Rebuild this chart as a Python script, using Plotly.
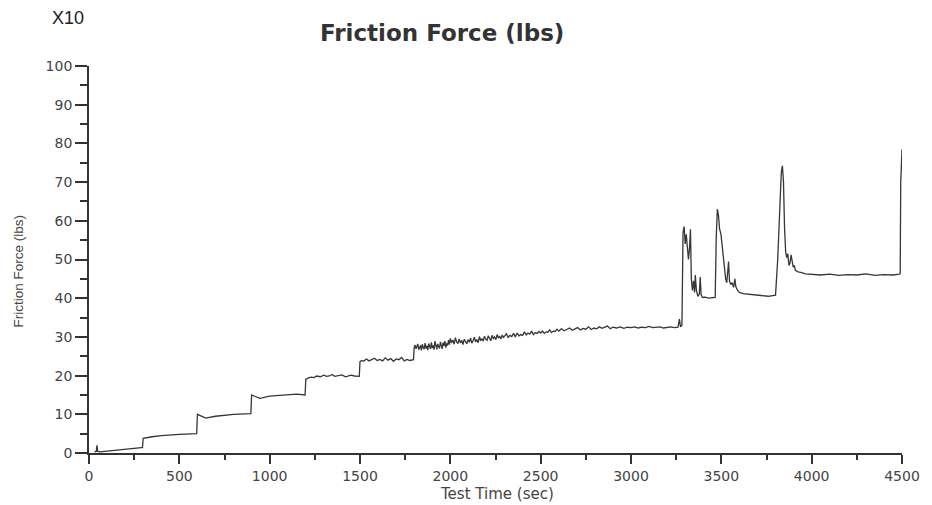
import plotly.graph_objects as go

# ---- data ----
time_sec = [
    30, 40, 44, 48, 60, 150, 290, 296,
    300, 350, 400, 500, 596,
    600, 620, 646, 700, 800, 896,
    900, 920, 946, 1000, 1100, 1150, 1196,
    1200, 1215, 1230, 1245, 1260, 1280, 1300, 1315, 1330, 1345, 1360, 1380, 1400, 1420, 1450, 1470, 1496,
    1500, 1510, 1520, 1535, 1550, 1565, 1580, 1595, 1610, 1625, 1640, 1655, 1670, 1685,
    1700, 1715, 1730, 1745, 1760, 1775, 1796,
    1800, 1805, 1810, 1815, 1820, 1825, 1830, 1835, 1840, 1845, 1850, 1855, 1860, 1865, 1870, 1875,
    1880, 1885, 1890, 1895, 1900, 1905, 1910, 1915, 1920, 1925, 1930, 1935, 1940, 1945, 1950, 1955,
    1960, 1965, 1970, 1975, 1980, 1985, 1990, 1995,
    2000, 2007, 2014, 2021, 2028, 2035, 2042, 2049, 2056, 2063, 2070, 2077, 2084, 2091, 2098,
    2105, 2112, 2119, 2126, 2133, 2140, 2147, 2154, 2161, 2168, 2175, 2182, 2189, 2196,
    2203, 2210, 2217, 2224, 2231, 2238, 2245, 2252, 2259, 2266, 2273, 2280, 2287, 2294,
    2300, 2310, 2320, 2330, 2340, 2350, 2360, 2370, 2380, 2390,
    2400, 2410, 2420, 2430, 2440, 2450, 2460, 2470, 2480, 2490,
    2500, 2510, 2520, 2530, 2540, 2550, 2560, 2570, 2580, 2590,
    2600, 2615, 2630, 2645, 2660, 2675, 2690, 2705, 2720, 2735, 2750, 2765, 2780, 2795,
    2810, 2825, 2840, 2855, 2870, 2885, 2900, 2920, 2940, 2960, 2980,
    3000, 3020, 3040, 3060, 3080, 3100, 3120, 3140, 3160, 3180,
    3200, 3220, 3240, 3260, 3268, 3274, 3282,
    3288, 3294, 3300, 3306, 3312, 3318, 3324, 3329, 3334, 3340,
    3346, 3352, 3356, 3362, 3370, 3378, 3383, 3388, 3395, 3410,
    3430, 3450, 3466,
    3472, 3478, 3484, 3490, 3498, 3506, 3512, 3518, 3524, 3530,
    3536, 3540, 3545, 3552, 3560, 3568, 3575, 3580, 3590, 3600,
    3620, 3650, 3680, 3720, 3760, 3790, 3800,
    3812, 3822, 3832, 3838, 3844, 3850, 3856, 3862, 3868, 3874,
    3880, 3886, 3892, 3898, 3904, 3910, 3925, 3940, 3965, 4000,
    4050, 4100, 4150, 4200, 4250, 4300, 4350, 4400, 4450, 4485,
    4490, 4493, 4496, 4500,
]

friction_force = [
    0.3, 0.4, 2.0, 0.4, 0.3, 0.8, 1.4, 1.4,
    3.8, 4.2, 4.5, 4.8, 5.0,
    10.0, 9.6, 9.0, 9.5, 10.0, 10.2,
    15.0, 14.6, 14.1, 14.7, 15.0, 15.2, 15.0,
    19.0, 19.4, 19.6, 19.5, 19.9, 19.7, 20.1, 19.8, 19.9, 20.3, 19.8, 20.0, 20.2, 19.7, 20.1, 19.9, 19.8,
    23.6, 23.9, 23.7, 24.3, 23.8, 24.1, 24.5, 23.9, 24.2, 23.8, 24.6, 24.0, 24.4, 23.7,
    24.3, 24.1, 24.7, 23.8, 24.2, 23.9, 24.1,
    27.2, 27.9, 26.9, 27.5, 28.2, 26.7, 27.4, 27.8, 26.5, 28.1, 27.3, 26.8, 28.4, 27.0, 27.7, 26.6,
    28.3, 27.5, 26.9, 28.6, 27.1, 27.8, 26.7, 28.9, 27.4, 26.8, 28.2, 27.6, 27.0, 28.7, 27.3, 26.9,
    28.5, 27.7, 28.9, 27.2, 28.3, 27.8, 29.2, 28.0,
    29.6, 28.5, 29.2, 28.1, 29.8, 28.7, 28.3, 29.5, 28.4, 29.1, 28.0, 29.4, 28.8, 28.2, 29.3,
    28.6, 29.7, 28.4, 29.0, 29.9, 28.7, 29.3, 28.5, 30.1, 29.0, 29.6, 28.9, 30.2, 29.4,
    29.1, 30.3, 29.5, 29.0, 30.4, 29.6, 30.0, 29.3, 30.6, 29.7, 30.1, 29.5, 30.5, 29.9,
    30.2, 30.8, 29.9, 30.4, 30.1, 30.9, 30.0, 31.0, 30.3, 30.6,
    30.4, 31.3, 30.5, 31.0, 30.7, 31.5, 30.6, 31.1, 30.9, 31.4,
    31.0, 31.5, 30.9, 31.3, 31.2, 31.8, 31.1, 31.5, 31.4, 32.0,
    31.5, 32.1, 31.6, 31.9, 32.3, 31.7, 32.0, 32.4, 31.8, 32.2, 32.0, 32.6, 31.9, 32.3,
    32.1, 32.6, 32.2, 32.4, 32.8, 32.1, 32.5, 32.3, 32.6, 32.2, 32.5,
    32.4, 32.6, 32.3, 32.5, 32.4, 32.7, 32.4, 32.5, 32.6, 32.3,
    32.5, 32.6, 32.4, 32.5, 34.6, 32.6, 33.0,
    57.0, 58.5, 54.0, 56.5, 52.0, 50.0, 53.0, 57.8, 45.0, 42.0,
    44.5, 41.5, 46.0, 42.0, 40.5, 41.0, 45.5, 41.0, 40.2, 40.3,
    40.0, 40.1, 40.2,
    56.0, 63.0, 61.5, 58.0, 56.5, 53.0, 50.0, 47.5, 45.0, 44.0,
    47.0, 49.5, 44.5, 43.5, 44.0, 42.8, 45.0, 43.0, 42.0, 41.5,
    41.2, 41.0, 40.9, 40.7, 40.5, 40.6, 40.8,
    50.0, 62.0, 72.5, 74.2, 70.0, 58.0, 52.0, 50.5, 51.5, 48.5,
    49.0, 51.2, 49.5, 48.0, 48.5, 47.2, 46.8, 46.7, 46.3, 46.1,
    46.0, 46.2, 45.9, 46.1, 46.0, 46.3, 45.9, 46.1, 46.0, 46.2,
    46.3, 70.0, 76.5, 78.5,
]

x_tick_vals = [0, 500, 1000, 1500, 2000, 2500, 3000, 3500, 4000, 4500]
y_tick_vals = [0, 10, 20, 30, 40, 50, 60, 70, 80, 90, 100]

chart_title = "Friction Force (lbs)"
x_title = "Test Time (sec)"
y_title = "Friction Force (lbs)"
scale_note = "X10"

# ---- figure (page has an 8px body margin, so the figure sits at 8,8) ----
OFF = 8
W, H = 932 - OFF, 505 - OFF
ML, MT = 89 - OFF, 66 - OFF
PW, PH = 818, 387
MR = W - ML - PW
MB = H - MT - PH

def py(page_y):
    return (MT + PH - (page_y - OFF)) / PH

def px(page_x):
    return ((page_x - OFF) - ML) / PW

fig = go.Figure()
fig.add_trace(go.Scatter(
    x=time_sec, y=friction_force, mode="lines",
    line=dict(color="#363636", width=1.3),
    showlegend=False, hoverinfo="skip",
))

axis_common = dict(
    showline=True, linecolor="#333333", linewidth=1.8,
    showgrid=False, zeroline=False, ticks="outside",
    tickcolor="#333333", tickwidth=1.8, mirror=False,
    tickfont=dict(family="DejaVu Sans", size=14, color="#444444"),
)

fig.update_xaxes(
    range=[0, 4500], tickvals=x_tick_vals, ticklen=9,
    minor=dict(dtick=250, ticklen=5, tickwidth=1.6, tickcolor="#333333", ticks="outside"),
    **axis_common,
)
fig.update_yaxes(
    range=[0, 100], tickvals=y_tick_vals, ticklen=12,
    minor=dict(dtick=5, ticklen=7, tickwidth=1.6, tickcolor="#333333", ticks="outside"),
    **axis_common,
)

annos = [
    dict(text=chart_title, x=px(444), y=py(33), xref="paper", yref="paper",
         showarrow=False, xanchor="center", yanchor="middle",
         font=dict(family="DejaVu Sans", size=23, color="#333333", weight="bold")),
    dict(text=scale_note, x=px(68), y=py(18), xref="paper", yref="paper",
         showarrow=False, xanchor="center", yanchor="middle",
         font=dict(family="Liberation Sans", size=18, color="#222222")),
    dict(text=x_title, x=px(500), y=py(494), xref="paper", yref="paper",
         showarrow=False, xanchor="center", yanchor="middle",
         font=dict(family="DejaVu Sans", size=15, color="#444444")),
    dict(text=y_title, x=px(18), y=py(271), xref="paper", yref="paper",
         showarrow=False, xanchor="center", yanchor="middle", textangle=-90,
         font=dict(family="Liberation Sans", size=13.5, color="#444444")),
]

fig.update_layout(
    width=W, height=H,
    margin=dict(l=ML, r=MR, t=MT, b=MB, pad=0),
    paper_bgcolor="white", plot_bgcolor="white",
    annotations=annos,
)

fig.write_html("out.html")
